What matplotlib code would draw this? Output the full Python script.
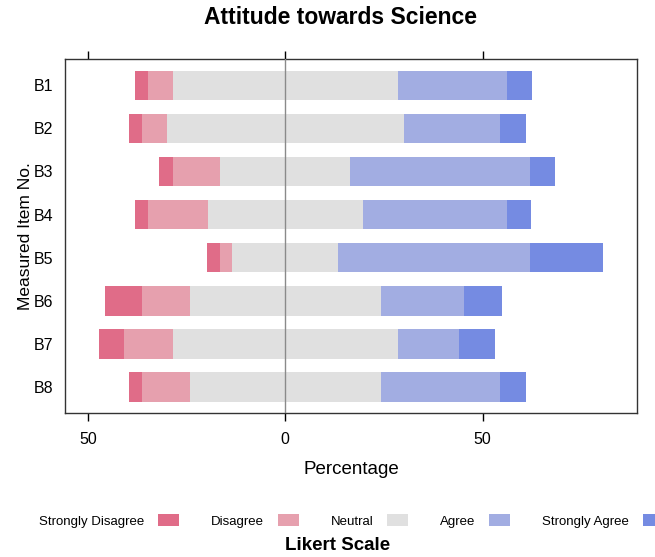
import matplotlib
matplotlib.use("Agg")
import matplotlib.pyplot as plt
from matplotlib.patches import Patch
import numpy as np

plt.rcParams['font.family'] = ['Liberation Sans', 'DejaVu Sans']

# items and likert percentages
items = ['B1', 'B2', 'B3', 'B4', 'B5', 'B6', 'B7', 'B8']
levels = ['Strongly Disagree', 'Disagree', 'Neutral', 'Agree', 'Strongly Agree']
strongly_disagree = [3.4, 3.4, 3.4, 3.4, 3.4, 9.5, 6.2, 3.4]
disagree = [6.2, 6.2, 12.0, 15.1, 3.1, 12.1, 12.4, 12.1]
neutral = [57.0, 60.2, 33.0, 39.2, 26.8, 48.4, 57.1, 48.4]
agree = [27.6, 24.4, 45.5, 36.5, 48.6, 21.1, 15.4, 30.3]
strongly_agree = [6.4, 6.5, 6.4, 6.1, 18.4, 9.5, 9.2, 6.5]

xticks = [-50, 0, 50]
xtick_labels = ['50', '0', '50']

colors = ['#E06C88', '#E6A0AE', '#E0E0E0', '#A2ADE2', '#758BE2']

sd = np.array(strongly_disagree)
d = np.array(disagree)
n = np.array(neutral)
a = np.array(agree)
sa = np.array(strongly_agree)

fig = plt.figure(figsize=(6.55, 5.57), dpi=100)
ax = fig.add_axes([0.0988, 0.2585, 0.8742, 0.635])

y = np.arange(1, len(items) + 1)
h = 0.68

# negative side: neutral half, disagree, strongly disagree
ax.barh(y, -n / 2, height=h, color=colors[2], zorder=2)
ax.barh(y, -d, left=-n / 2, height=h, color=colors[1], zorder=2)
ax.barh(y, -sd, left=-n / 2 - d, height=h, color=colors[0], zorder=2)
# positive side
ax.barh(y, n / 2, height=h, color=colors[2], zorder=2)
ax.barh(y, a, left=n / 2, height=h, color=colors[3], zorder=2)
ax.barh(y, sa, left=n / 2 + a, height=h, color=colors[4], zorder=2)

ax.axvline(0, color='#8a8a8a', lw=1, zorder=3)

ax.set_xlim(-55.9, 89.2)
ax.set_ylim(8.6, 0.4)
ax.set_yticks(y)
ax.set_yticklabels(items, fontsize=11.5)
ax.set_xticks(xticks)
ax.set_xticklabels(xtick_labels, fontsize=11.5)
ax.tick_params(axis='y', length=0, pad=8)
ax.tick_params(axis='x', top=True, labeltop=False, direction='out', length=6, width=1, pad=8)

for s in ax.spines.values():
    s.set_color('#333333')
    s.set_linewidth(1)

ax.set_xlabel('Percentage', fontsize=13.5, labelpad=10)
ax.set_ylabel('Measured Item No.', fontsize=12.5, labelpad=1)

fig.text(340 / 655, 1 - 17 / 557, 'Attitude towards Science', ha='center', va='center',
         fontsize=16.5, fontweight='bold')

handles = [Patch(facecolor=c, edgecolor='none') for c in colors]
fig.legend(handles, levels, loc='center left', bbox_to_anchor=(39 / 655, 1 - 521 / 557),
           ncol=5, frameon=False, fontsize=9.5, markerfirst=False,
           handlelength=1.6, handleheight=1.05, handletextpad=1.05,
           columnspacing=2.4, borderpad=0, borderaxespad=0)

fig.text(338 / 655, 1 - 545 / 557, 'Likert Scale', ha='center', va='center',
         fontsize=13.5, fontweight='bold')

fig.savefig('out.png', dpi=100)
